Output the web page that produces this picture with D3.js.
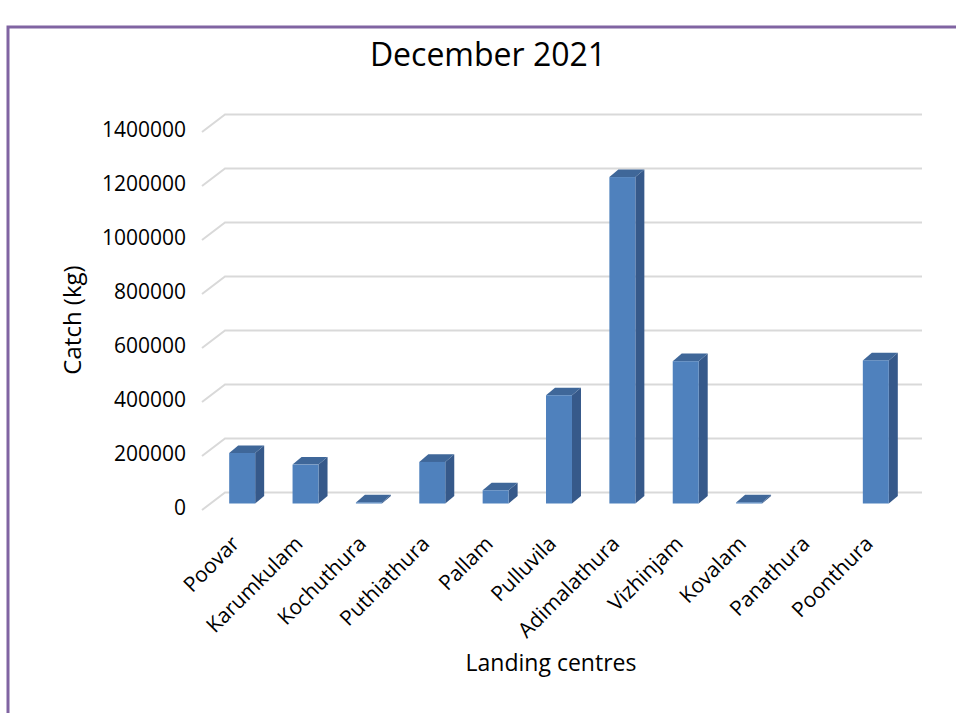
<!DOCTYPE html>
<html>
<head>
<meta charset="utf-8">
<script src="https://cdn.jsdelivr.net/npm/d3@7"></script>
<style>
  html, body { margin: 0; padding: 0; background: #ffffff; }
  svg { display: block; font-family: "Open Sans", "Liberation Sans", sans-serif; }
</style>
</head>
<body>
<svg id="chart" width="956" height="713"></svg>
<script>
// Monthly catch per landing centre
const centres = ["Poovar", "Karumkulam", "Kochuthura", "Puthiathura", "Pallam", "Pulluvila",
                 "Adimalathura", "Vizhinjam", "Kovalam", "Panathura", "Poonthura"];
const catchKg = [187000, 144000, 4000, 154000, 49000, 401000, 1209000, 527000, 4000, 0, 530000];
const yTicks = [0, 200000, 400000, 600000, 800000, 1000000, 1200000, 1400000];
const titleText = "December 2021";
const yTitle = "Catch (kg)";
const xTitle = "Landing centres";

const W = 956, H = 713;
const svg = d3.select("#chart");

// Oblique 3-D frame: back wall in screen space, depth pushes points left/down
const wallLeft = 225, wallRight = 922;
const depthDX = 23, depthDY = 17.5;        // full floor depth
const barFront = { dx: -14.5, dy: 11 };     // front face of the bars
const barBack  = { dx: -5.5,  dy: 3.4 };    // back face of the bars

const x = d3.scaleBand().domain(centres).range([wallLeft, wallRight])
  .paddingInner(0.59).paddingOuter(0.295);
const y = d3.scaleLinear().domain([0, 1400000]).range([492.5, 114.5]);

// Frame
svg.append("path")
  .attr("d", `M8,${H} V27 H${W}`)
  .attr("fill", "none").attr("stroke", "#8064a2").attr("stroke-width", 3);

// Title
svg.append("text").attr("x", 488).attr("y", 66).attr("text-anchor", "middle")
  .attr("font-size", 32).attr("fill", "#000").text(titleText);

// Gridlines: back wall plus the side wall diagonals
const grid = svg.append("g").attr("stroke", "#d9d9d9").attr("stroke-width", 2).attr("fill", "none");
yTicks.forEach(t => {
  const yy = y(t);
  grid.append("path")
    .attr("d", `M${wallLeft - depthDX},${yy + depthDY} L${wallLeft},${yy} L${wallRight},${yy}`);
});

// Value axis labels sit at the front edge of the side wall
svg.append("g").selectAll("text").data(yTicks).join("text")
  .attr("x", 186).attr("y", d => y(d) + depthDY - 2)
  .attr("dy", "0.35em").attr("text-anchor", "end")
  .attr("font-size", 21).attr("fill", "#000")
  .text(d => d3.format("d")(d));

// Bars: top, side and front faces
const bars = svg.append("g");
centres.forEach((c, i) => {
  const v = catchKg[i];
  if (v <= 0) return;
  const bw = x.bandwidth();
  const xb = x(c);
  const yt = y(v), y0 = y(0);
  const fx = xb + barFront.dx, bx = xb + barBack.dx;
  const fyT = yt + barFront.dy, fyB = y0 + barFront.dy;
  const byT = yt + barBack.dy, byB = y0 + barBack.dy;
  bars.append("path")
    .attr("d", `M${fx + bw},${fyT} L${bx + bw},${byT} L${bx + bw},${byB} L${fx + bw},${fyB} Z`)
    .attr("fill", "#36598a");
  bars.append("path")
    .attr("d", `M${fx},${fyT} L${fx + bw},${fyT} L${bx + bw},${byT} L${bx},${byT} Z`)
    .attr("fill", "#3f6799");
  bars.append("rect")
    .attr("x", fx).attr("y", fyT).attr("width", bw).attr("height", Math.max(0, fyB - fyT))
    .attr("fill", "#4f81bd");
});

// Category labels, rotated
svg.append("g").selectAll("text").data(centres).join("text")
  .attr("transform", d => `translate(${x(d) + x.bandwidth() / 2 - depthDX + 7},545) rotate(-45)`)
  .attr("text-anchor", "end").attr("font-size", 21).attr("fill", "#000")
  .text(d => d);

// Axis titles
svg.append("text").attr("transform", "translate(81,320) rotate(-90)")
  .attr("text-anchor", "middle").attr("font-size", 24).attr("fill", "#000").text(yTitle);
svg.append("text").attr("x", 551).attr("y", 671).attr("text-anchor", "middle")
  .attr("font-size", 23).attr("fill", "#000").text(xTitle);
</script>
</body>
</html>
